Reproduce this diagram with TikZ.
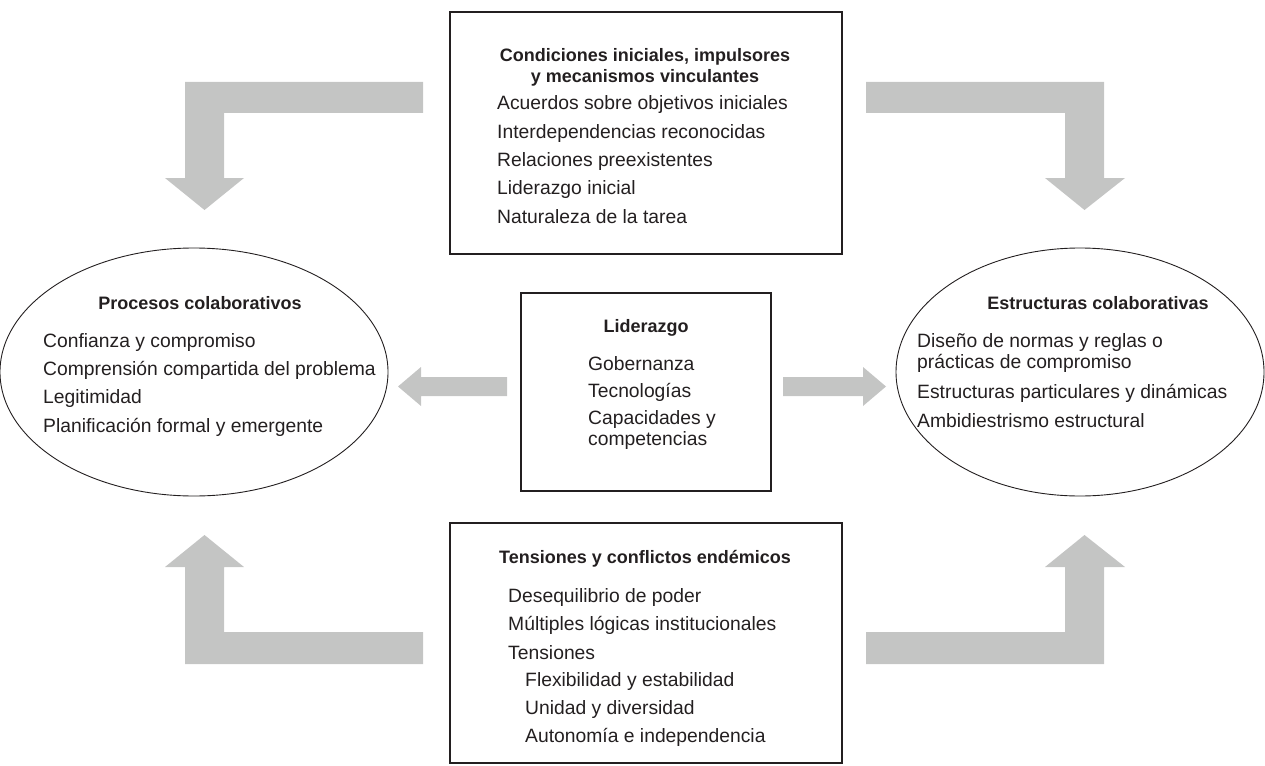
\documentclass[tikz,border=0pt]{standalone}
\usepackage{fontspec}
\setmainfont{Liberation Sans}
\usetikzlibrary{shapes.geometric}
\definecolor{arrowgray}{RGB}{196,197,196}
\definecolor{ink}{RGB}{35,31,32}

\begin{document}
\begin{tikzpicture}[x=1pt,y=-1pt,
  frame/.style={draw=ink, line width=1.1pt, inner sep=0pt},
  oval/.style={draw=ink, line width=0.9pt, ellipse, inner sep=0pt},
  blockarrow/.style={fill=arrowgray, draw=none},
  heading/.style={anchor=base, inner sep=0pt, font=\fontsize{18}{21}\selectfont\bfseries, text=ink},
  entry/.style={anchor=base west, inner sep=0pt, font=\fontsize{19.3}{23}\selectfont, text=ink}]

\useasboundingbox (0,0) rectangle (1265,765);

% --- frames ---
\node[frame, minimum width=392pt, minimum height=242pt] (cond) at (646,133) {};
\node[frame, minimum width=250pt, minimum height=198pt] (lid)  at (646,392) {};
\node[frame, minimum width=392pt, minimum height=240pt] (tens) at (646,643) {};
\node[oval, minimum width=388pt, minimum height=248pt] (proc) at (194,372) {};
\node[oval, minimum width=368pt, minimum height=248pt] (estr) at (1080,372) {};

% --- block arrows ---
\fill[blockarrow] (423,82) -- (185,82) -- (185,178) -- (165,178) -- (204.5,210)
  -- (244,178) -- (224,178) -- (224,113) -- (423,113) -- cycle;
\fill[blockarrow] (866,82) -- (1104,82) -- (1104,178) -- (1125,178) -- (1084.5,210)
  -- (1045,178) -- (1065,178) -- (1065,113) -- (866,113) -- cycle;
\fill[blockarrow] (423,664) -- (185,664) -- (185,567) -- (165,567) -- (204.5,535)
  -- (244,567) -- (224,567) -- (224,632) -- (423,632) -- cycle;
\fill[blockarrow] (866,664) -- (1104,664) -- (1104,567) -- (1125,567) -- (1084.5,535)
  -- (1045,567) -- (1065,567) -- (1065,632) -- (866,632) -- cycle;
\fill[blockarrow] (507,377) -- (421,377) -- (421,367) -- (398,386.5) -- (421,406)
  -- (421,396) -- (507,396) -- cycle;
\fill[blockarrow] (783,377) -- (863,377) -- (863,367) -- (886,386.5) -- (863,406)
  -- (863,396) -- (783,396) -- cycle;

% --- initial conditions ---
\node[heading] (condh1) at (645,62) {Condiciones iniciales, impulsores};
\node[heading] (condh2) at (645,83) {y mecanismos vinculantes};
\foreach \t [count=\i] in {Acuerdos sobre objetivos iniciales,
    Interdependencias reconocidas, Relaciones preexistentes,
    Liderazgo inicial, Naturaleza de la tarea}
  \node[entry] (cond\i) at (497,{110+28.3*(\i-1)}) {\t};

% --- leadership ---
\node[heading] (lidh) at (646,332) {Liderazgo};
\node[entry] (lid1) at (588,370) {Gobernanza};
\node[entry] (lid2) at (588,397) {Tecnologías};
\node[entry] (lid3) at (588,424) {Capacidades y};
\node[entry] (lid4) at (588,445) {competencias};

% --- tensions ---
\node[heading] (tensh) at (645,563) {Tensiones y conflictos endémicos};
\node[entry] (tens1) at (508,602) {Desequilibrio de poder};
\node[entry] (tens2) at (508,630) {Múltiples lógicas institucionales};
\node[entry] (tens3) at (508,659) {Tensiones};
\node[entry] (tens4) at (525,686) {Flexibilidad y estabilidad};
\node[entry] (tens5) at (525,714) {Unidad y diversidad};
\node[entry] (tens6) at (525,742) {Autonomía e independencia};

% --- collaborative processes ---
\node[heading] (proch) at (200,309) {Procesos colaborativos};
\foreach \t [count=\i] in {Confianza y compromiso,
    Comprensión compartida del problema, Legitimidad,
    Planificación formal y emergente}
  \node[entry] (proc\i) at (43,{347+28.4*(\i-1)}) {\t};

% --- collaborative structures ---
\node[heading] (estrh) at (1098,309) {Estructuras colaborativas};
\node[entry] (estr1) at (917,347) {Diseño de normas y reglas o};
\node[entry] (estr2) at (917,368.5) {prácticas de compromiso};
\node[entry] (estr3) at (917,398.5) {Estructuras particulares y dinámicas};
\node[entry] (estr4) at (917,427) {Ambidiestrismo estructural};

\end{tikzpicture}
\end{document}
